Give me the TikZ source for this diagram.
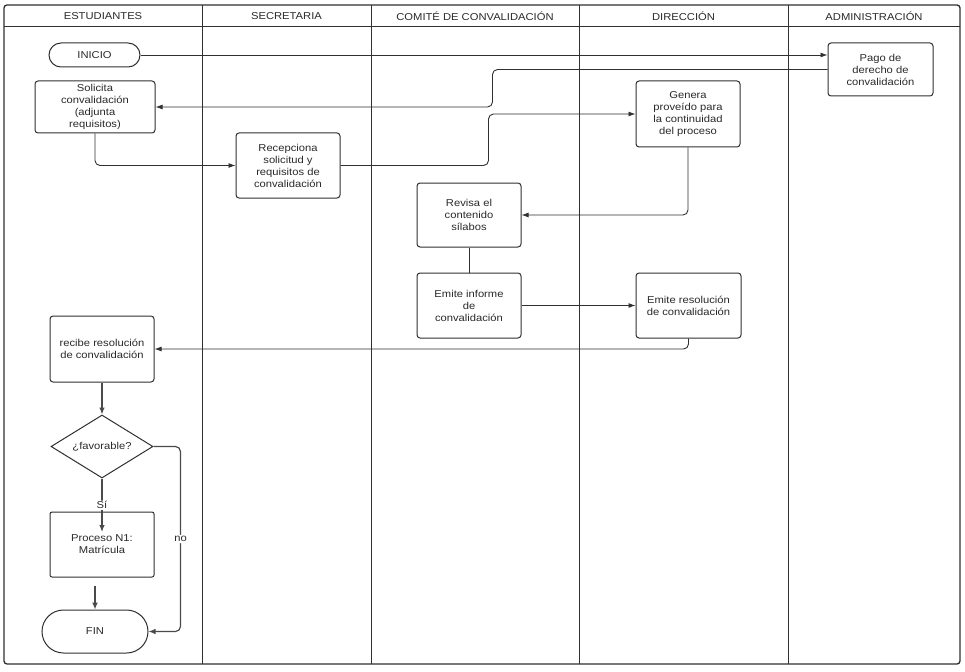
\documentclass[tikz,border=0pt]{standalone}
\usepackage{fontspec}
\setmainfont{Liberation Sans}[FakeStretch=1.12]
\usetikzlibrary{arrows.meta,shapes.geometric}
\definecolor{ln}{HTML}{303030}
\definecolor{ar}{HTML}{4A4A4A}
\definecolor{tx}{HTML}{2A2A2A}
\begin{document}
\begin{tikzpicture}[x=1pt,y=-1pt,
  every node/.style={font=\fontsize{10}{12}\selectfont, text=tx},
  box/.style={draw=ln, line width=1pt, rounded corners=3pt, align=center, inner sep=0pt, minimum width=104pt, minimum height=65pt},
  pill/.style={draw=ln, line width=1pt, align=center, inner sep=0pt},
  arr/.style={draw=ln, line width=0.9pt, rounded corners=5pt, -{Latex[length=7pt,width=5pt]}},
  arrb/.style={draw=ar, line width=1.2pt, rounded corners=5pt, -{Latex[length=7pt,width=5.5pt]}},
  lanetitle/.style={font=\fontsize{10}{12}\selectfont, text=tx}
]
\fill[white] (0,0) rectangle (965,671);
\useasboundingbox (0,0) rectangle (965,671);

% frame and lanes
\draw[draw=ln, line width=1.3pt, rounded corners=3pt] (4,5) rectangle (960,664);
\draw[draw=ln, line width=1pt] (4,27) -- (960,27);
\foreach \x in {202,371,579,788} \draw[draw=ln, line width=1pt] (\x,5) -- (\x,664);
\node[lanetitle] (l1) at (103,16.5) {ESTUDIANTES};
\node[lanetitle] (l2) at (286.5,16.5) {SECRETARIA};
\node[lanetitle] (l3) at (475,16.5) {COMITÉ DE CONVALIDACIÓN};
\node[lanetitle] (l4) at (683.5,16.5) {DIRECCIÓN};
\node[lanetitle] (l5) at (874,16.5) {ADMINISTRACIÓN};

% nodes
\node[pill, rounded corners=12pt, minimum width=91pt, minimum height=24pt] (ini) at (94.5,55) {INICIO};
\node[box, minimum width=120pt, minimum height=52pt] (sol) at (95,107) {Solicita\\convalidación\\(adjunta\\requisitos)};
\node[box] (rec) at (288,165.5) {Recepciona\\solicitud y\\requisitos de\\convalidación};
\node[box, minimum width=105pt, minimum height=53pt] (pago) at (880.5,69.5) {Pago de\\derecho de\\convalidación};
\node[box, minimum height=66pt] (gen) at (688,114) {Genera\\proveído para\\la continuidad\\del proceso};
\node[box, minimum height=64pt] (rev) at (469,215) {Revisa el\\contenido\\sílabos};
\node[box] (inf) at (469,305.5) {Emite informe\\de\\convalidación};
\node[box, minimum width=105pt] (res) at (688.5,305.5) {Emite resolución\\de convalidación};
\node[box, minimum height=66pt] (rcb) at (102,349) {recibe resolución\\de convalidación};
\node[diamond, draw=ln, line width=1pt, aspect=1.6, inner sep=0pt, minimum width=102pt, minimum height=63pt] (fav) at (102,446.5) {¿favorable?};
\node[box, rounded corners=2pt] (proc) at (102,544.5) {Proceso N1:\\Matrícula};
\node[pill, rounded corners=21.5pt, minimum width=106pt, minimum height=43pt] (fin) at (95,631.5) {FIN};

\coordinate (sitip) at (102,532);
\coordinate (pstart) at (95,586);

% connectors
\draw[arr] (ini.east) -- (ini.east -| pago.west);
\draw[arr] (pago.west) -- ++(-335,0) |- (sol.east);
\draw[arr] (sol.south) |- (rec.west);
\draw[arr] (rec.east) -- ++(148,0) |- (gen.west);
\draw[arr] (gen.south) |- (rev.east);
\draw[draw=ln, line width=0.9pt] (rev.south) -- (inf.north);
\draw[arr] (inf.east) -- (res.west);
\draw[arr] (res.south) |- (rcb.east);
\draw[arrb] (rcb.south) -- (fav.north);
\draw[arrb] (fav.south) -- node[fill=white, inner sep=1pt, pos=0.5] (si) {Sí} (sitip);
\draw[arrb] (fav.east) -- ++(27,0) |- node[pos=0.25, fill=white, inner sep=1.5pt] (no) {no} (fin.east);
\draw[draw=ar, line width=1.7pt, -{Latex[length=7pt,width=6pt]}] (pstart) -- (fin.north);
\end{tikzpicture}
\end{document}
